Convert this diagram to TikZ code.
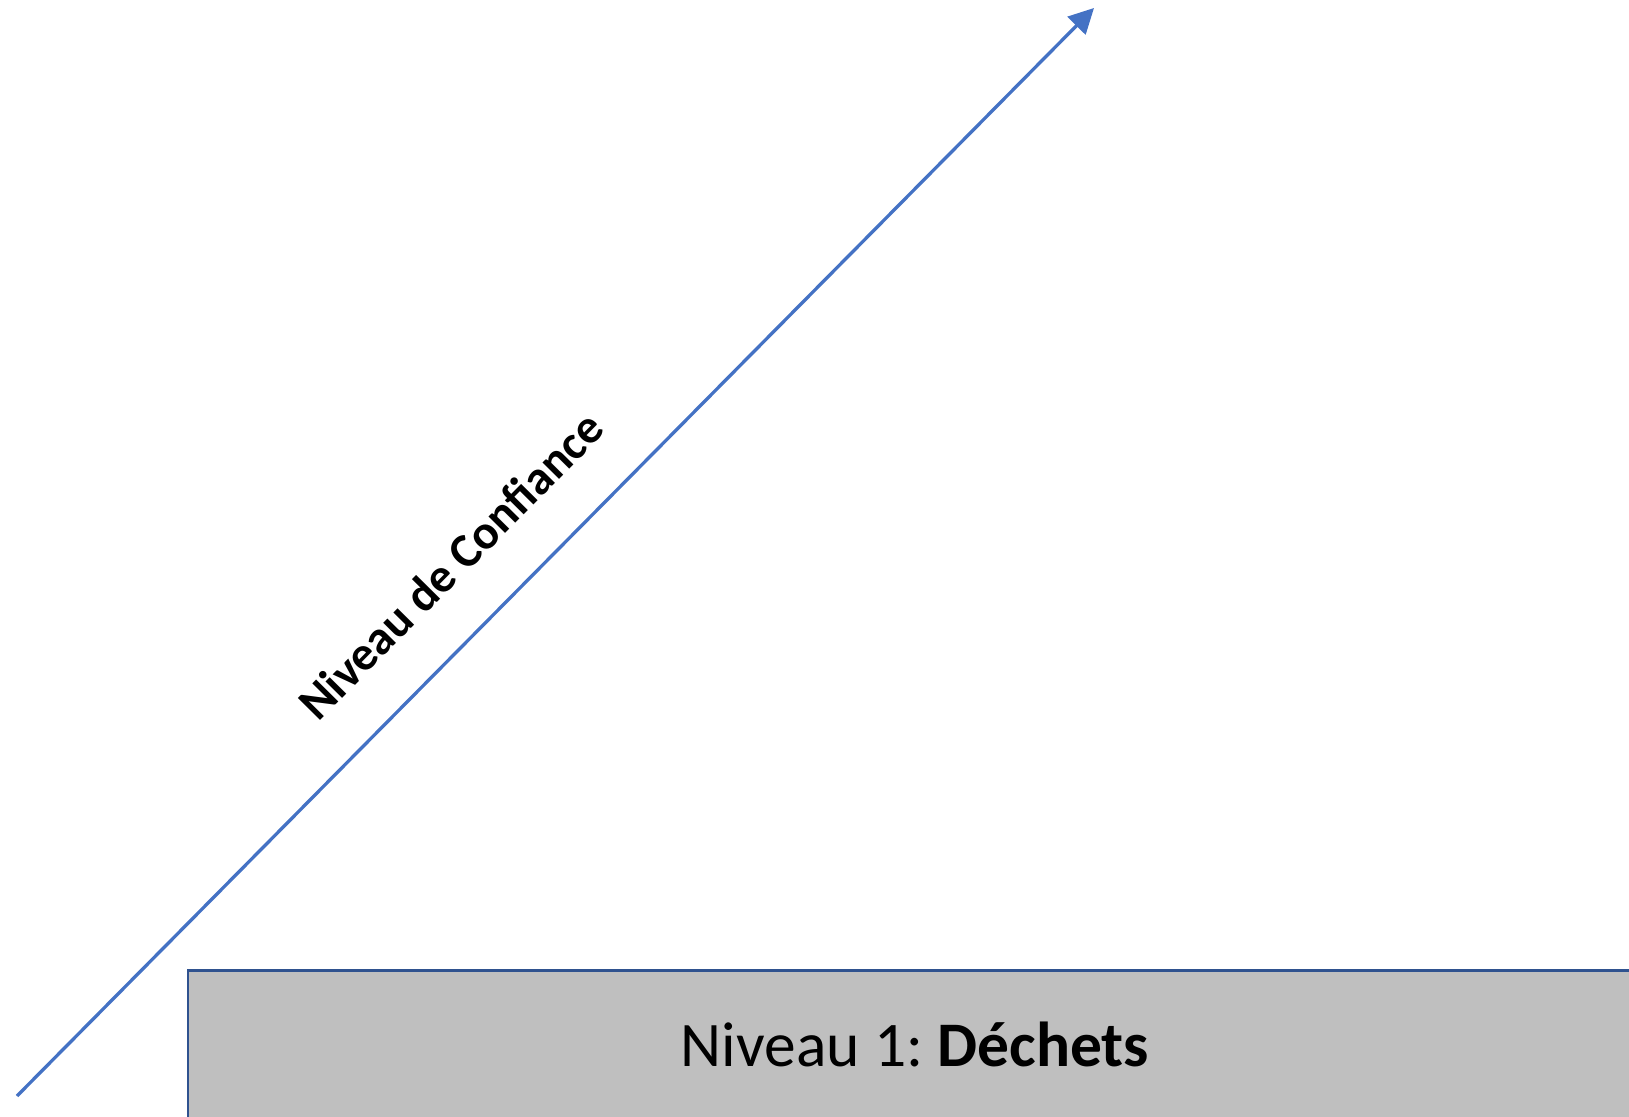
\documentclass[tikz,border=0pt]{standalone}
\usepackage{fontspec}
\setmainfont{Carlito}
\usetikzlibrary{arrows.meta}
\definecolor{axisblue}{HTML}{4472C4}
\definecolor{boxedge}{HTML}{2F528F}
\definecolor{boxgray}{HTML}{BFBFBF}
\tikzset{
  axisline/.style={draw=axisblue, line width=3.3pt, -{Triangle[length=25pt,width=25pt]}},
  levelbox/.style={draw=boxedge, fill=boxgray, line width=2.7pt, rectangle, inner sep=0pt, anchor=north west},
  leveltext/.style={font=\frenchspacing\fontsize{63.5}{76}\selectfont, inner sep=0pt, anchor=base},
  axislabel/.style={font=\fontsize{48.2}{58}\selectfont\bfseries, inner sep=0pt, rotate=45.3}
}
\begin{document}
\begin{tikzpicture}[x=1pt,y=1pt]
\useasboundingbox (0,0) rectangle (1629,1116);
\clip (0,0) rectangle (1629,1116);
\node[levelbox, minimum width=1460pt, minimum height=200pt] (box) at (186.5,146.5) {};
\node[leveltext] (boxtext) at (915,50) {Niveau 1: \textbf{Déchets}};
\coordinate (start) at (17,20);
\coordinate (tip) at (1094,1108);
\draw[axisline] (start) -- (tip);
\node[axislabel] (lbl) at (450.5,550.5) {Niveau de Confiance};
\end{tikzpicture}
\end{document}
